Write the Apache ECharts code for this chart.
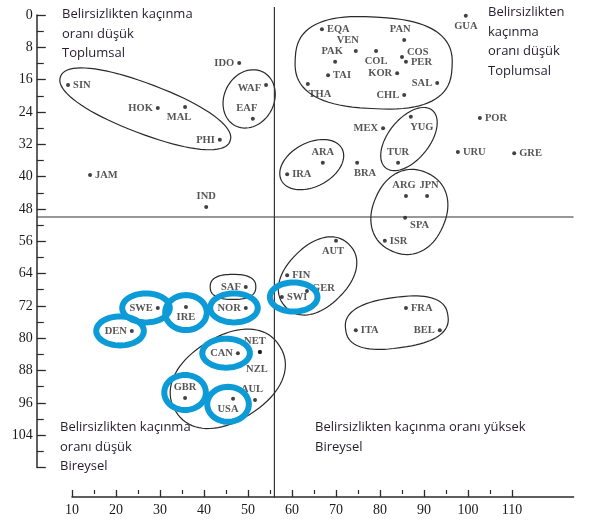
<!DOCTYPE html>
<html>
<head>
<meta charset="utf-8">
<script src="https://cdn.jsdelivr.net/npm/echarts@6/dist/echarts.min.js"></script>
<style>
html, body { margin: 0; padding: 0; background: #fff; }
#main { width: 591px; height: 521px; }
</style>
</head>
<body>
<div id="main"></div>
<script>
// country codes and their positions (x: bottom axis, y: left axis)
const codes = ['SIN','HOK','MAL','PHI','JAM','IND','IDO','WAF','EAF',
  'EQA','VEN','PAK','TAI','THA','COL','PAN','COS','PER','KOR','SAL','CHL','GUA',
  'MEX','YUG','POR','TUR','URU','GRE','ARA','IRA','BRA','ARG','JPN','SPA','ISR',
  'AUT','FIN','GER','SWI','SAF','NOR','IRE','SWE','DEN',
  'CAN','NET','NZL','AUL','USA','GBR','ITA','FRA','BEL'];
const xVals = [9.1, 29.5, 35.7, 43.6, 14.1, 40.5, 48.0, 54.1, 51.1,
  66.8, 74.5, 69.8, 68.2, 63.6, 79.1, 85.5, 85.0, 85.9, 83.9, 93.0, 85.5, 99.5,
  80.7, 87.0, 102.7, 84.1, 97.7, 110.5, 67.0, 58.9, 74.8, 85.9, 90.7, 85.7, 81.1,
  70.0, 58.9, 63.4, 57.7, 49.5, 49.5, 35.9, 29.5, 23.6,
  47.7, 52.7, 52.7, 51.6, 46.6, 35.7, 74.5, 85.9, 93.6];
const yVals = [17.3, 23.0, 22.8, 30.9, 39.6, 47.5, 11.9, 17.3, 25.7,
  3.5, 8.9, 11.6, 14.9, 17.1, 8.9, 6.2, 10.4, 11.6, 14.4, 16.8, 19.8, 0.2,
  28.0, 25.2, 25.5, 36.6, 33.9, 34.2, 36.6, 39.4, 36.6, 44.8, 44.8, 50.2, 55.9,
  55.9, 64.4, 68.3, 69.8, 67.3, 72.5, 72.3, 72.5, 78.2,
  83.7, 83.4, 83.4, 95.3, 95.0, 94.8, 78.0, 72.5, 78.0];

// groups outlined in the figure
const clusters = [
  ['SIN','HOK','MAL','PHI'],
  ['WAF','EAF'],
  ['EQA','VEN','PAK','TAI','THA','COL','PAN','COS','PER','KOR','SAL','CHL'],
  ['ARA','IRA'],
  ['YUG','TUR'],
  ['ARG','JPN','SPA','ISR'],
  ['AUT','FIN','GER','SWI'],
  ['SAF'],
  ['CAN','NET','NZL','AUL','USA','GBR'],
  ['ITA','FRA','BEL']
];
// countries circled in blue
const ringed = ['SWE','DEN','IRE','NOR','CAN','GBR','USA','SWI'];

const xTicks = [10,20,30,40,50,60,70,80,90,100,110];
const xMinor = [15,25,35,45,55,65,75,85,95,105];
const crossX = 56;
const crossY = 50;

// label placement: side, dx, dy
const labelPos = {
  SIN:['r'], HOK:['l'], MAL:['b',-6,0], PHI:['l'], JAM:['r'], IND:['t'], IDO:['l'],
  WAF:['l',0,3], EAF:['t',-6,0], EQA:['r'], VEN:['t',-8,0], PAK:['t',-3,0], TAI:['r'],
  THA:['b',12,0], COL:['b'], PAN:['t',-4,0], COS:['r',0,-5], PER:['r'], KOR:['l'],
  SAL:['l'], CHL:['l'], GUA:['b'], MEX:['l'], YUG:['b',11,0], POR:['r'], TUR:['t'],
  URU:['r'], GRE:['r'], ARA:['t'], IRA:['r'], BRA:['b',8,0], ARG:['t',-2,0], JPN:['t',2,0],
  SPA:['r',0,7], ISR:['r'], AUT:['b',-3,0], FIN:['r'], GER:['r',0,-3], SWI:['r'],
  SAF:['l'], NOR:['l'], IRE:['b'], SWE:['l'], DEN:['l'], CAN:['l'], NET:['t',-5,0],
  NZL:['b',-3,7], AUL:['t',-3,0], USA:['b',-5,0], GBR:['t'], ITA:['r'], FRA:['r'], BEL:['l']
};
// outline padding (along, across) and roundness
const clusterStyle = [
  [10, 9, 2.2], [10, 10, 2], [14, 8, 2.6], [8, 9, 2], [8, 8, 2],
  [4, 10, 2.2], [4, 8, 2.2], [10, 8, 2.5], [8, 8, 2.2], [10, 8, 2.5]
];
const sideName = { r: 'right', l: 'left', t: 'top', b: 'bottom' };

function idx(c) { return codes.indexOf(c); }

function labelBox(p, code) {
  const lp = labelPos[code];
  const dx = lp[1] || 0, dy = lp[2] || 0;
  const w = code.length * 7.2, h = 9, d = 4;
  let x0, y0;
  if (lp[0] === 'r') { x0 = p[0] + d; y0 = p[1] - h / 2; }
  else if (lp[0] === 'l') { x0 = p[0] - d - w; y0 = p[1] - h / 2; }
  else if (lp[0] === 't') { x0 = p[0] - w / 2; y0 = p[1] - d - h; }
  else { x0 = p[0] - w / 2; y0 = p[1] + d; }
  x0 += dx; y0 += dy;
  return [[x0, y0], [x0 + w, y0], [x0, y0 + h], [x0 + w, y0 + h]];
}

function blob(pts, padA, padB, pow) {
  const n = pts.length;
  let mx = 0, my = 0;
  pts.forEach(p => { mx += p[0]; my += p[1]; });
  mx /= n; my /= n;
  let sxx = 0, syy = 0, sxy = 0;
  pts.forEach(p => {
    const dx = p[0] - mx, dy = p[1] - my;
    sxx += dx * dx; syy += dy * dy; sxy += dx * dy;
  });
  const ang = 0.5 * Math.atan2(2 * sxy, sxx - syy);
  const c = Math.cos(ang), s = Math.sin(ang);
  let amin = Infinity, amax = -Infinity, bmin = Infinity, bmax = -Infinity;
  pts.forEach(p => {
    const dx = p[0] - mx, dy = p[1] - my;
    const a = dx * c + dy * s, b = -dx * s + dy * c;
    amin = Math.min(amin, a); amax = Math.max(amax, a);
    bmin = Math.min(bmin, b); bmax = Math.max(bmax, b);
  });
  const ca = (amin + amax) / 2, cb = (bmin + bmax) / 2;
  const ra = (amax - amin) / 2 + padA, rb = (bmax - bmin) / 2 + padB;
  const out = [];
  for (let i = 0; i < 80; i++) {
    const t = i / 80 * 2 * Math.PI;
    const ct = Math.cos(t), st = Math.sin(t);
    const a = ca + ra * Math.sign(ct) * Math.pow(Math.abs(ct), 2 / pow);
    const b = cb + rb * Math.sign(st) * Math.pow(Math.abs(st), 2 / pow);
    out.push([mx + a * c - b * s, my + a * s + b * c]);
  }
  return out;
}

const pointData = codes.map((c, i) => {
  const lp = labelPos[c];
  return {
    name: c,
    value: [xVals[i], yVals[i]],
    label: { position: sideName[lp[0]], offset: [lp[1] || 0, lp[2] || 0] }
  };
});

const quadText = [
  { x: 62, y: 8, lines: ['Belirsizlikten kaçınma', 'oranı düşük', 'Toplumsal'] },
  { x: 488, y: 6, lines: ['Belirsizlikten', 'kaçınma', 'oranı düşük', 'Toplumsal'] },
  { x: 60, y: 421, lines: ['Belirsizlikten kaçınma', 'oranı düşük', 'Bireysel'] },
  { x: 315, y: 421, lines: ['Belirsizlikten kaçınma oranı yüksek', 'Bireysel'] }
];
const graphics = [];
quadText.forEach(q => {
  q.lines.forEach((t, k) => {
    graphics.push({
      type: 'text', left: q.x, top: q.y + k * 19.5, silent: true,
      style: { text: t, font: '13px "Open Sans"', fill: '#231d2e' }
    });
  });
});

const chart = echarts.init(document.getElementById('main'));
const axisColor = '#2b2b2b';
const option = {
  animation: false,
  backgroundColor: '#fff',
  grid: [
    { left: 36.8, right: 17.4, top: 15, bottom: 53.5 },
    { left: 72, right: 17.4, top: 490, bottom: 24 }
  ],
  xAxis: [
    { gridIndex: 0, type: 'value', min: 2, max: 124, show: false },
    {
      gridIndex: 1, type: 'value', min: 10, max: 124, interval: 10,
      axisLine: { lineStyle: { color: axisColor, width: 1.5 } },
      axisTick: { inside: true, length: 7, customValues: xTicks, lineStyle: { color: axisColor, width: 1.3 } },
      axisLabel: { customValues: xTicks, margin: 6, fontFamily: 'Liberation Serif', fontSize: 14, color: '#1a1a1a' },
      splitLine: { show: false }
    },
    {
      gridIndex: 1, type: 'value', min: 10, max: 124, interval: 10,
      axisLine: { show: false },
      axisTick: { inside: true, length: 4, customValues: xMinor, lineStyle: { color: axisColor, width: 1.2 } },
      axisLabel: { show: false },
      splitLine: { show: false }
    }
  ],
  yAxis: [
    {
      gridIndex: 0, type: 'value', inverse: true, min: 0, max: 112, interval: 8,
      axisLine: { show: true, lineStyle: { color: axisColor, width: 1.5 } },
      axisTick: { inside: true, length: 9, lineStyle: { color: axisColor, width: 1.3 } },
      minorTick: { show: true, splitNumber: 2, length: 7, lineStyle: { color: axisColor, width: 1.2 } },
      axisLabel: {
        margin: 4, fontFamily: 'Liberation Serif', fontSize: 14, color: '#1a1a1a',
        formatter: v => (v <= 104 ? String(v) : '')
      },
      splitLine: { show: false }
    },
    { gridIndex: 1, type: 'value', show: false }
  ],
  graphic: graphics,
  series: [
    {
      type: 'line', xAxisIndex: 0, yAxisIndex: 0, clip: false, symbol: 'none', silent: true,
      data: [[crossX, -2], [crossX, 119.5]],
      lineStyle: { color: '#333', width: 1.2 }
    },
    {
      type: 'line', xAxisIndex: 0, yAxisIndex: 0, clip: false, symbol: 'none', silent: true,
      data: [[2, crossY], [124, crossY]],
      lineStyle: { color: '#333', width: 1.2 }
    },
    {
      type: 'custom', xAxisIndex: 0, yAxisIndex: 0, clip: false, silent: true,
      data: clusters.map(m => [xVals[idx(m[0])], yVals[idx(m[0])]]),
      renderItem: function (params, api) {
        const pts = [];
        clusters[params.dataIndex].forEach(c => {
          const i = idx(c);
          const p = api.coord([xVals[i], yVals[i]]);
          pts.push(p);
          labelBox(p, c).forEach(q => pts.push(q));
        });
        const st = clusterStyle[params.dataIndex];
        return {
          type: 'polygon',
          shape: { points: blob(pts, st[0], st[1], st[2]) },
          style: { fill: 'none', stroke: '#2a2a2a', lineWidth: 1.2 }
        };
      }
    },
    {
      type: 'scatter', xAxisIndex: 0, yAxisIndex: 0, symbolSize: 4,
      itemStyle: { color: '#111' },
      label: {
        show: true, formatter: '{b}', distance: 3,
        fontFamily: 'Liberation Serif', fontSize: 10.5, fontWeight: 'bold', color: '#2a2a2a'
      },
      data: pointData
    },
    {
      type: 'custom', xAxisIndex: 0, yAxisIndex: 0, clip: false, silent: true, z: 5,
      data: ringed.map(c => [xVals[idx(c)], yVals[idx(c)]]),
      renderItem: function (params, api) {
        const c = ringed[params.dataIndex];
        const i = idx(c);
        const p = api.coord([xVals[i], yVals[i]]);
        const box = labelBox(p, c).concat([[p[0] - 2, p[1] - 2], [p[0] + 2, p[1] + 2]]);
        let x0 = Infinity, x1 = -Infinity, y0 = Infinity, y1 = -Infinity;
        box.forEach(q => {
          x0 = Math.min(x0, q[0]); x1 = Math.max(x1, q[0]);
          y0 = Math.min(y0, q[1]); y1 = Math.max(y1, q[1]);
        });
        const cx = (x0 + x1) / 2, cy = (y0 + y1) / 2;
        const rx = (x1 - x0) / 2 + 10, ry = (y1 - y0) / 2 + 10;
        const pts = [];
        for (let k = 0; k < 60; k++) {
          const t = k / 60 * 2 * Math.PI;
          pts.push([cx + rx * Math.cos(t), cy + ry * Math.sin(t)]);
        }
        return {
          type: 'polygon',
          shape: { points: pts },
          style: { fill: 'none', stroke: '#0d9bd8', lineWidth: 6 }
        };
      }
    }
  ]
};
chart.setOption(option);
</script>
</body>
</html>
